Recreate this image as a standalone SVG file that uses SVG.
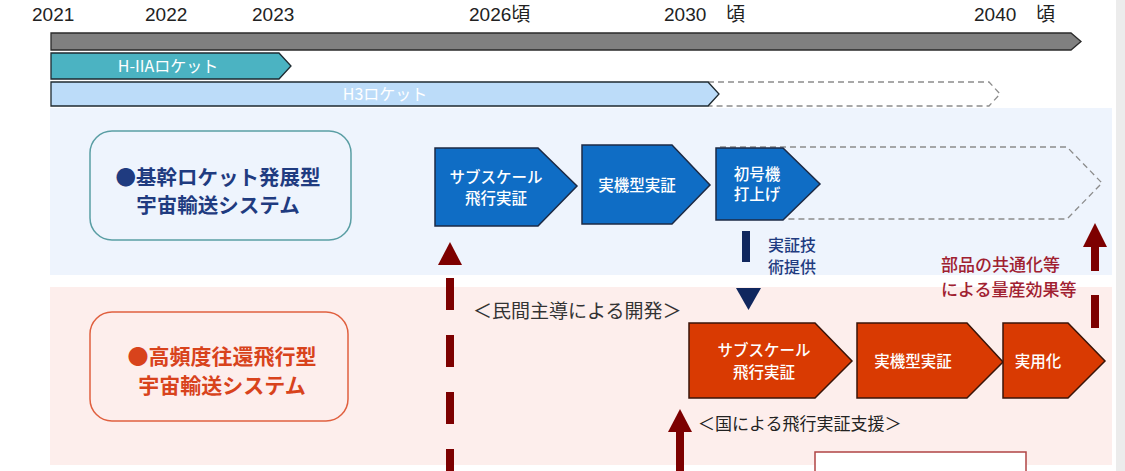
<svg xmlns="http://www.w3.org/2000/svg" width="1125" height="471" viewBox="0 0 1125 471">
<style>
.yr{font-family:"Liberation Sans","Noto Sans CJK JP",sans-serif;font-size:19px;fill:#222}
.jp{font-family:"Noto Sans CJK JP",sans-serif}
.wt{fill:#fff;font-size:15.5px;font-weight:500;text-anchor:middle;font-family:"Noto Sans CJK JP",sans-serif}
.bch{fill:#0f6dc5;stroke:#1c2a45;stroke-width:1.5}
.rch{fill:#d93a02;stroke:#3a1408;stroke-width:1.5}
.dsh{fill:none;stroke:#8c8c8c;stroke-width:1.3;stroke-dasharray:6 4}
</style>
<rect x="0" y="0" width="1125" height="471" fill="#fff"/>
<rect x="1116" y="0" width="9" height="471" fill="#ececec"/>
<g id="years">
<text class="yr" x="32" y="21">2021</text>
<text class="yr" x="145" y="21">2022</text>
<text class="yr" x="252" y="21">2023</text>
<text class="yr" x="469" y="21">2026頃</text>
<text class="yr" x="664" y="21">2030</text>
<text class="yr" x="726" y="21">頃</text>
<text class="yr" x="974" y="21">2040</text>
<text class="yr" x="1036" y="21">頃</text>
</g>
<g id="timeline">
<path d="M51 33 H1071 L1081 41.5 L1071 50 H51 Z" fill="#808080" stroke="#2a2a2a" stroke-width="1.3"/>
</g>
<g id="h2a">
<path d="M51 53 H279 L291 66 L279 79 H51 Z" fill="#4bb3c2" stroke="#1e2a30" stroke-width="1.3"/>
<text class="jp" x="168" y="72" font-size="16" fill="#fff" text-anchor="middle">H-IIAロケット</text>
</g>
<g id="h3">
<path class="dsh" d="M708 82 H989 L1000 94 L989 106 H708"/>
<path d="M51 82 H708 L719 94 L708 106 H51 Z" fill="#bcdcf9" stroke="#1e2a30" stroke-width="1.3"/>
<text class="jp" x="385" y="100" font-size="16" fill="#fff" text-anchor="middle">H3ロケット</text>
</g>
<rect id="panel-blue" x="50" y="108" width="1062" height="167" fill="#eef4fd"/>
<rect id="panel-pink" x="50" y="287" width="1062" height="178" fill="#fdeeec"/>
<g id="box-kikan">
<rect x="90" y="131" width="261" height="109" rx="22" fill="#eef4fd" stroke="#5a9ea4" stroke-width="1.5"/>
<text class="jp" x="218" y="185" font-size="20.5" font-weight="bold" fill="#1f3b80" text-anchor="middle">●基幹ロケット発展型</text>
<text class="jp" x="218" y="213" font-size="20.5" font-weight="bold" fill="#1f3b80" text-anchor="middle">宇宙輸送システム</text>
</g>
<g id="box-koh">
<rect x="90" y="312" width="258" height="109" rx="22" fill="#fdeeec" stroke="#e0603f" stroke-width="1.5"/>
<text class="jp" x="222" y="364" font-size="21" font-weight="bold" fill="#d8431c" text-anchor="middle">●高頻度往還飛行型</text>
<text class="jp" x="222" y="393" font-size="21" font-weight="bold" fill="#d8431c" text-anchor="middle">宇宙輸送システム</text>
</g>
<g id="b-future">
<path class="dsh" d="M720 147 H1067 L1102 183 L1067 219 H787"/>
</g>
<g id="b1">
<path class="bch" d="M435 148 H538 L577 186 L538 226 H435 Z"/>
<text class="wt" x="496" y="183">サブスケール</text>
<text class="wt" x="496" y="204">飛行実証</text>
</g>
<g id="b2">
<path class="bch" d="M582 145 H672 L710 185 L672 224 H582 Z"/>
<text class="wt" x="637" y="191">実機型実証</text>
</g>
<g id="b3">
<path class="bch" d="M716 148 H783 L820 184 L783 220 H716 Z"/>
<text class="wt" x="757" y="180" font-size="15">初号機</text>
<text class="wt" x="757" y="200" font-size="15">打上げ</text>
</g>
<g id="r1">
<path class="rch" d="M689 323 H815 L852 361 L815 398 H689 Z"/>
<text class="wt" x="764" y="356">サブスケール</text>
<text class="wt" x="764" y="378">飛行実証</text>
</g>
<g id="r2">
<path class="rch" d="M857 323 H967 L1003 362 L967 398 H857 Z"/>
<text class="wt" x="913" y="367">実機型実証</text>
</g>
<g id="r3">
<path class="rch" d="M1003 323 H1068 L1105 361 L1068 398 H1003 Z"/>
<text class="wt" x="1038" y="367">実用化</text>
</g>
<g id="connectors">
<line x1="450" y1="278" x2="450" y2="480" stroke="#7d0000" stroke-width="8" stroke-dasharray="32 25"/>
<polygon points="438,265 462,265 450,242" fill="#7d0000"/>
<rect x="742" y="231" width="8" height="31" fill="#10275e"/>
<polygon points="736,288 761,288 748.5,310" fill="#10275e"/>
<polygon points="1083,247 1107,247 1095,223" fill="#7d0000"/>
<rect x="1091" y="246" width="8" height="25" fill="#7d0000"/>
<rect x="1091" y="295" width="8" height="33" fill="#7d0000"/>
<polygon points="668,432 692,432 680,409" fill="#7d0000"/>
<rect x="676" y="431" width="8" height="45" fill="#7d0000"/>
</g>
<g id="labels">
<text class="jp" x="768" y="251" font-size="16" font-weight="500" fill="#1f3b80">実証技</text>
<text class="jp" x="768" y="273" font-size="16" font-weight="500" fill="#1f3b80">術提供</text>
<text class="jp" x="941" y="271" font-size="17" font-weight="500" fill="#a02030">部品の共通化等</text>
<text class="jp" x="941" y="296" font-size="17" font-weight="500" fill="#a02030">による量産効果等</text>
<text class="jp" x="473" y="318" font-size="19" fill="#333">＜民間主導による開発＞</text>
<text class="jp" x="698" y="430" font-size="17" fill="#222">＜国による飛行実証支援＞</text>
</g>
<g id="box-bottom">
<rect x="815" y="452" width="211" height="30" fill="#fff" stroke="#b04444" stroke-width="1.5"/>
</g>
</svg>
